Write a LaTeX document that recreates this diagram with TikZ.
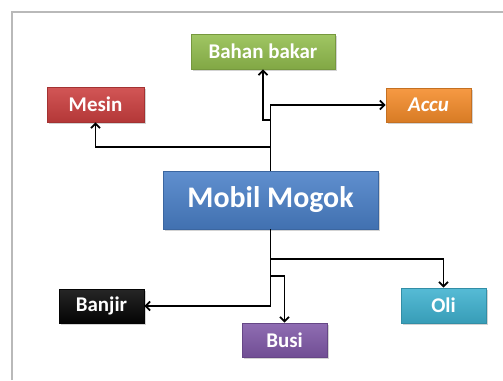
\documentclass[tikz,border=0pt]{standalone}
\usepackage{fontspec}
\setmainfont{Carlito}
\usepackage{xcolor}
\usepackage{tikz}
\usetikzlibrary{positioning,%
  arrows.meta,%
  shadows,%
  calc
}
\definecolor{ofblue}{HTML}{4A80C8}
\definecolor{ofred}{HTML}{CC3F3F}
\definecolor{ofgreen}{HTML}{93BE4E}
\definecolor{oforange}{HTML}{F58C2A}
\definecolor{ofpurple}{HTML}{8059A8}
\definecolor{ofcyan}{HTML}{3FB2D0}
\definecolor{ofblack}{HTML}{050505}
\begin{document}
\begin{tikzpicture}
                    [x=1bp, y=-1bp,
                    box/.style={rectangle, inner sep=0pt,
                        draw=#1!80!black, line width=.6bp,
                        top color=#1!88!white, bottom color=#1!88!black,
                        drop shadow={shadow xshift=1.5bp,
                            shadow yshift=-1.5bp, opacity=.35},
                        text=white,
                        font=\fontsize{21}{24}\selectfont\bfseries,
                        minimum width=85bp, minimum height=34bp},
                    arr/.style={-{Straight Barb[length=4.5bp,width=9bp]},
                        line width=1.8bp, black},
                    thick]

                    % frame
                    \useasboundingbox (0,0) rectangle (503,380);
                    \draw[gray!55, line width=2bp]
                        (12,380) -- (12,12) -- (503,12);

                    \node[box=ofblue, minimum width=215bp,
                        minimum height=58bp,
                        font=\fontsize{30}{33}\selectfont\bfseries]
                        (mobil) at (270.5,200) {Mobil Mogok};
                    \node[box=ofgreen, minimum width=144bp,
                        minimum height=35bp]
                        (bahan) at (263,51.5) {Bahan bakar};
                    \node[box=ofred, minimum width=97bp,
                        minimum height=35bp]
                        (mesin) at (95.5,104.5) {Mesin};
                    \node[box=oforange]
                        (accu) at (428.5,105) {\itshape Accu};
                    \node[box=ofblack, top color=black!85]
                        (banjir) at (101.5,306) {Banjir};
                    \node[box=ofpurple]
                        (busi) at (284.5,340) {Busi};
                    \node[box=ofcyan, minimum height=35bp]
                        (oli) at (443.5,305.5) {Oli};

                    % upper branches
                    \draw[arr] (mobil.north) |- (accu.west);
                    \draw[arr] (mobil.north) -- ++(0,-24)
                        -| (mesin.south);
                    \draw[arr] (mobil.north) -- ++(0,-51)
                        -| (bahan.south);

                    % lower branches
                    \draw[arr] (mobil.south) -- ++(0,30)
                        -| (oli.north);
                    \draw[arr] (mobil.south) -- ++(0,47)
                        -| (busi.north);
                    \draw[arr] (mobil.south) |- (banjir.east);
                \end{tikzpicture}
\end{document}
